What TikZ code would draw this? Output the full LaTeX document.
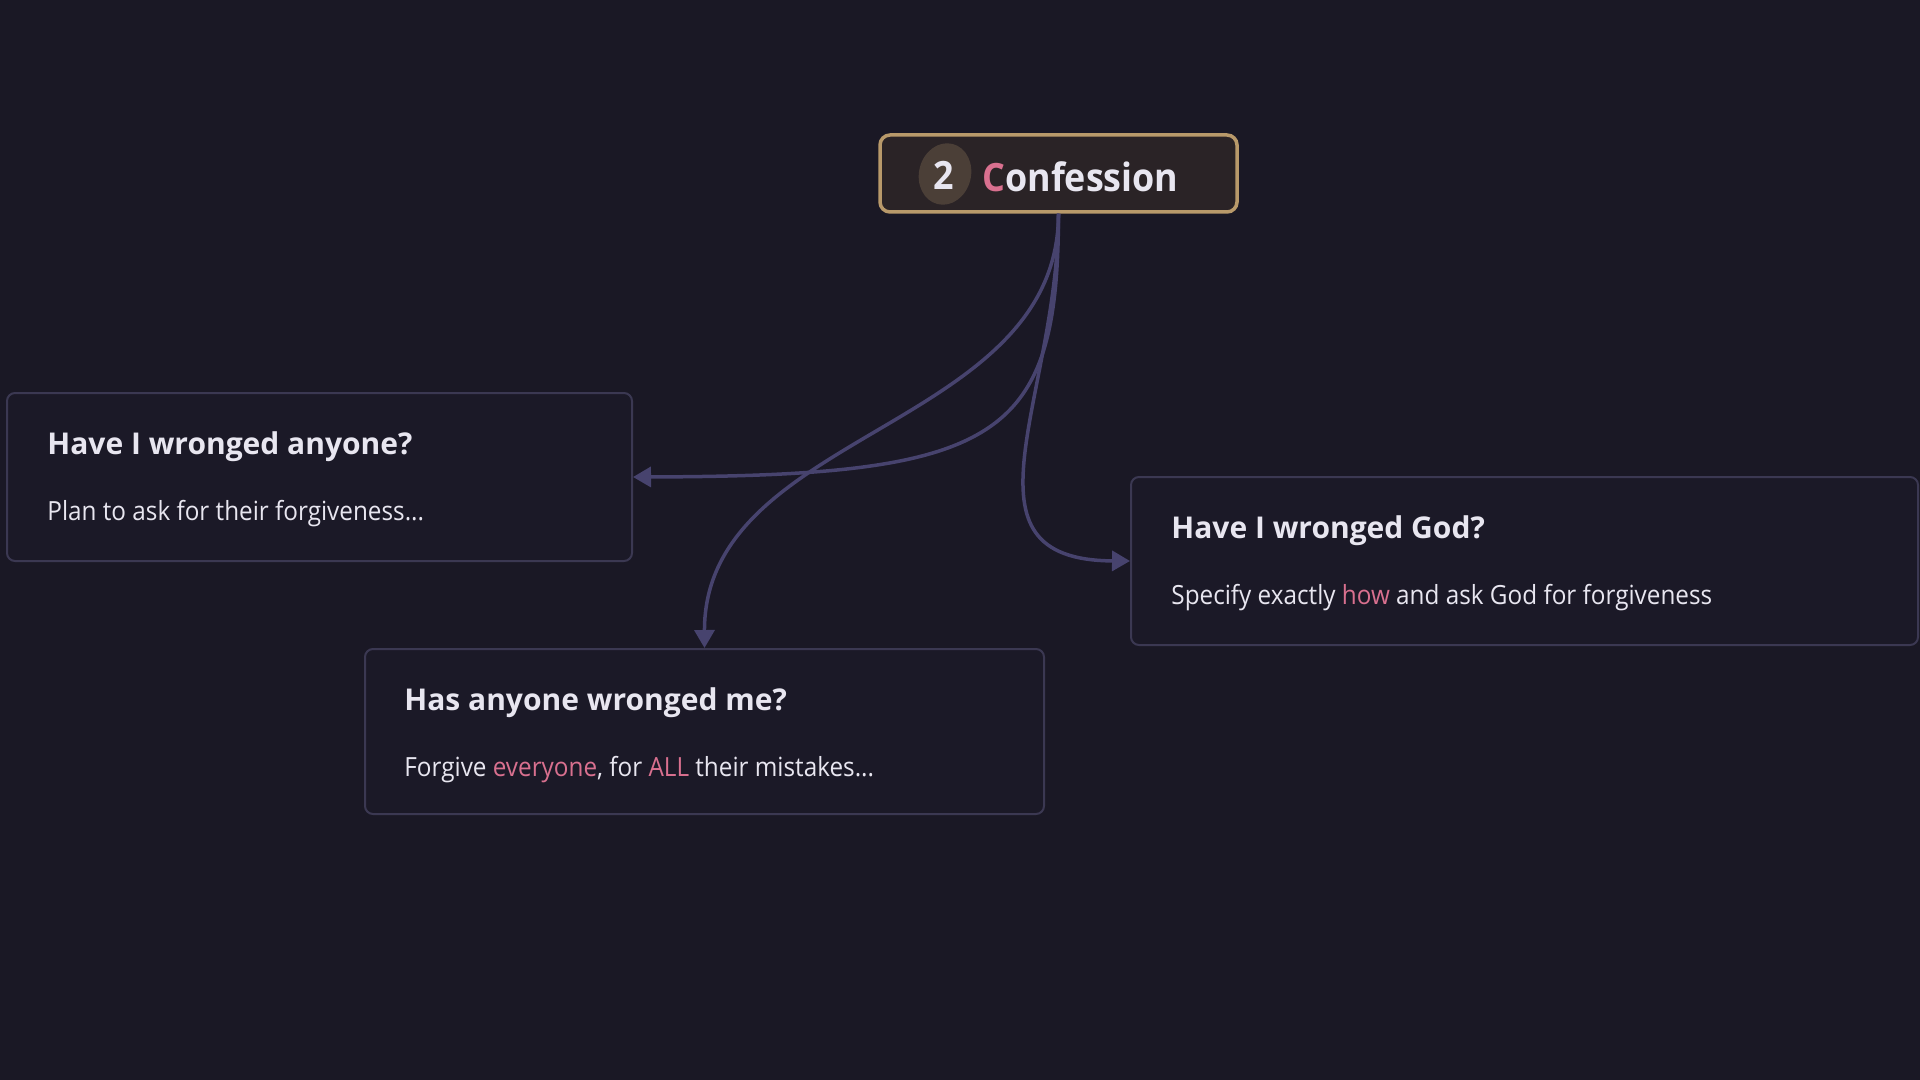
\documentclass[tikz,border=0pt]{standalone}
\usepackage{fontspec}
\setmainfont{Open Sans}
\newfontfamily\bodyfont{Open Sans}[FakeStretch=0.92]
\newfontfamily\confont{Open Sans}[FakeStretch=0.92]
\usetikzlibrary{arrows.meta,shapes.geometric,calc}
\definecolor{bgc}{HTML}{1A1825}
\definecolor{cardfill}{HTML}{1B1927}
\definecolor{cardline}{HTML}{3B3852}
\definecolor{linkc}{HTML}{47436E}
\definecolor{conffill}{HTML}{2A2326}
\definecolor{confline}{HTML}{B8996A}
\definecolor{badgec}{HTML}{4B3F37}
\definecolor{txt}{HTML}{E8E6F0}
\definecolor{pinkc}{HTML}{D9708F}
\tikzset{
  card/.style={draw=cardline, line width=1pt, fill=cardfill, rounded corners=4pt, anchor=north west, inner sep=0pt},
  ttl/.style={anchor=base west, inner sep=0pt, text=txt, font=\fontsize{15pt}{18pt}\selectfont\bfseries},
  bdy/.style={anchor=base west, inner sep=0pt, text=txt, font=\bodyfont\fontsize{13.2pt}{16pt}\selectfont},
  link/.style={draw=linkc, line width=1.75pt, -{Triangle[length=9pt,width=10pt]}},
}
\begin{document}
\begin{tikzpicture}[x=0.5pt,y=-0.5pt]
\fill[bgc] (0,0) rectangle (1920,1080);
\useasboundingbox (0,0) rectangle (1920,1080);

% cards
\node[card, minimum width=312.5pt, minimum height=84pt] (left) at (6,392) {};
\node[card, minimum width=339.5pt, minimum height=82.5pt] (bot) at (364,648) {};
\node[card, minimum width=393.5pt, minimum height=84pt] (right) at (1130,476) {};

\node[ttl] (lt) at ($(left.north west)+(41,62)$) {Have I wronged anyone?};
\node[bdy] (lb) at ($(left.north west)+(41,128)$) {Plan to ask for their forgiveness...};

\node[ttl] (bt) at ($(bot.north west)+(40,62)$) {Has anyone wronged me?};
\node[bdy] (bb) at ($(bot.north west)+(40,128)$) {Forgive \textcolor{pinkc}{everyone}, for \textcolor{pinkc}{ALL} their mistakes...};

\node[ttl] (rt) at ($(right.north west)+(41,62)$) {Have I wronged God?};
\node[bdy] (rb) at ($(right.north west)+(41,128)$) {Specify exactly \textcolor{pinkc}{how} and ask God for forgiveness};

% confession header
\node[draw=confline, line width=1.75pt, fill=conffill, rounded corners=5pt, minimum width=178.5pt, minimum height=38.5pt, inner sep=0pt] (conf) at (1058.5,173.5) {};
\node[ellipse, fill=badgec, minimum width=26pt, minimum height=31pt, inner sep=0pt, rotate=-14] (badge) at (945,174) {};
\node[anchor=base, inner sep=0pt, text=txt, font=\confont\fontsize{19.5pt}{22pt}\selectfont\bfseries] (num) at (944,190) {2};
\node[anchor=base west, inner sep=0pt, text=txt, font=\confont\fontsize{19.5pt}{22pt}\selectfont\bfseries] (ctitle) at (982,192) {\textcolor{pinkc}{C}onfession};

% connectors
\draw[link] (conf.south) .. controls (1058,440) and (1000,476) .. (left.east);
\draw[link] (conf.south) .. controls (1058,430) and (704,430) .. (bot.north);
\draw[link] (conf.south) .. controls (1058,400) and (950,560) .. (right.west);
\end{tikzpicture}
\end{document}
